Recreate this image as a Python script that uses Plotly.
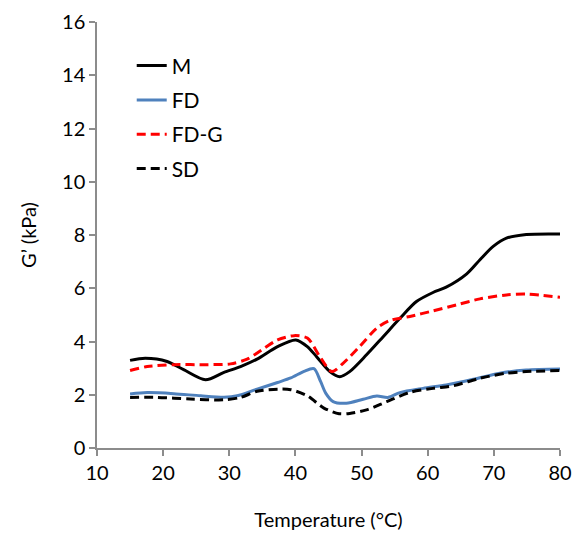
import plotly.graph_objects as go

# M (black solid)
m_t = [15, 17.3, 20.6, 23.1, 26.4, 29.2, 31.7, 34.2, 37.3, 40.05, 41.8, 43.2, 45.2, 46.7, 48.2, 50.75,
       53.3, 55.8, 58.3, 60.8, 62.8, 65.9, 67.9, 69.9, 71.9, 74.9, 80]
m_v = [3.29, 3.37, 3.25, 2.94, 2.56, 2.84, 3.06, 3.34, 3.81, 4.06, 3.81, 3.43, 2.87, 2.68, 2.87, 3.5,
       4.19, 4.87, 5.5, 5.84, 6.04, 6.54, 7.07, 7.57, 7.88, 8.02, 8.04]

# FD (blue solid)
fd_t = [15, 17.6, 21.6, 25.7, 29.2, 31.2, 34.2, 37.3, 39.3, 41.3, 42.8, 43.8, 44.6, 45.7, 47.7, 50.25,
        52.3, 54.0, 55.8, 59.3, 62.8, 66.9, 70.9, 74.9, 80]
fd_v = [2.03, 2.08, 2.04, 1.96, 1.91, 1.96, 2.21, 2.46, 2.63, 2.88, 2.98, 2.5, 2.05, 1.74, 1.68, 1.83,
        1.95, 1.9, 2.08, 2.24, 2.37, 2.58, 2.81, 2.93, 2.97]

# FD-G (red dashed)
fdg_t = [15, 17.6, 21.6, 26.7, 30.2, 32.7, 35.3, 37.3, 39.8, 41.8, 43.7, 45.5, 47.2, 49.7, 52.3, 54.3,
         57.3, 60.8, 64.4, 67.9, 71.9, 74.9, 80]
fdg_v = [2.91, 3.06, 3.13, 3.13, 3.16, 3.34, 3.75, 4.06, 4.22, 4.13, 3.43, 2.87, 3.18, 3.81, 4.5, 4.79,
         4.94, 5.15, 5.38, 5.6, 5.75, 5.78, 5.66]

# SD (black dashed)
sd_t = [15, 19.1, 24.1, 29.2, 31.7, 34.2, 37.3, 39.3, 41.8, 44.3, 46.6, 48.2, 50.75, 53.8, 57.3, 60.8,
        63.9, 67.9, 71.9, 74.9, 80]
sd_v = [1.9, 1.9, 1.84, 1.81, 1.9, 2.13, 2.21, 2.19, 1.96, 1.5, 1.29, 1.3, 1.43, 1.74, 2.09, 2.24,
        2.34, 2.62, 2.81, 2.87, 2.91]

x_ticks = [10, 20, 30, 40, 50, 60, 70, 80]
y_ticks = [0, 2, 4, 6, 8, 10, 12, 14, 16]

fig = go.Figure()
fig.add_trace(go.Scatter(x=m_t, y=m_v, name="M", mode="lines", legendgroup="a",
                         line=dict(color="black", width=3, shape="spline", smoothing=0.8)))
fig.add_trace(go.Scatter(x=fd_t, y=fd_v, name="FD", mode="lines", legendgroup="b",
                         line=dict(color="#4F81BD", width=3, shape="spline", smoothing=0.8)))
fig.add_trace(go.Scatter(x=fdg_t, y=fdg_v, name="FD-G", mode="lines", legendgroup="c",
                         line=dict(color="#FF0000", width=3, dash="9px,5px", shape="spline", smoothing=0.8)))
fig.add_trace(go.Scatter(x=sd_t, y=sd_v, name="SD", mode="lines", legendgroup="d",
                         line=dict(color="black", width=3, dash="9px,5px", shape="spline", smoothing=0.8)))

font = "Lato, Open Sans, sans-serif"
fig.update_layout(
    width=579, height=541,
    margin=dict(l=97, r=19, t=22, b=93),
    paper_bgcolor="white", plot_bgcolor="white",
    font=dict(family=font, size=20, color="black"),
    showlegend=True,
    legend=dict(x=0.075, y=0.945, xanchor="left", yanchor="top",
                font=dict(size=21), bgcolor="rgba(0,0,0,0)", tracegroupgap=4),
    xaxis=dict(range=[10, 80], tickvals=x_ticks, ticktext=[str(v) for v in x_ticks],
               automargin=False,
               showgrid=False, zeroline=False, showline=True, linecolor="#8c8c8c", linewidth=1.5,
               ticks="outside", ticklen=6, tickcolor="#8c8c8c", tickwidth=1.5,
               title=dict(text="Temperature (°C)", font=dict(size=20), standoff=30)),
    yaxis=dict(range=[0, 16], tickvals=y_ticks, ticktext=[str(v) for v in y_ticks],
               automargin=False,
               showgrid=False, zeroline=False, showline=True, linecolor="#8c8c8c", linewidth=1.5,
               ticks="outside", ticklen=6, tickcolor="#8c8c8c", tickwidth=1.5,
               title=dict(text="G’ (kPa)", font=dict(size=20), standoff=20)),
)

fig.write_html("out.html")
